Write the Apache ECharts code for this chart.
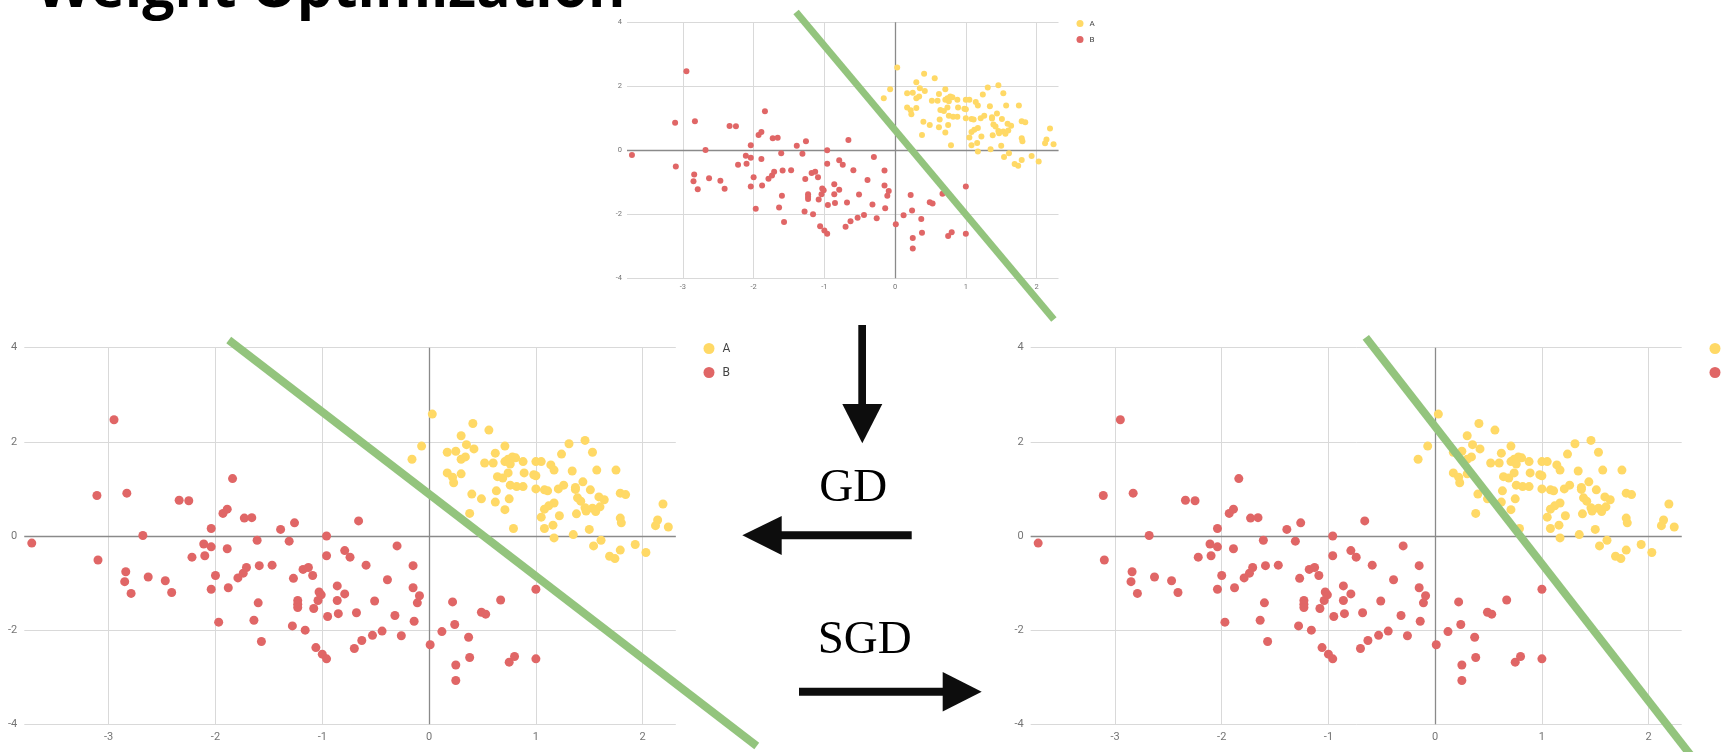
<!DOCTYPE html>
<html><head><meta charset="utf-8">
<script src="https://cdn.jsdelivr.net/npm/echarts@6/dist/echarts.min.js"></script>
<style>html,body{margin:0;padding:0;background:#fff}#c{width:1729px;height:752px}</style>
</head><body><div id="c"></div><script>
// ---- data ----
const seriesNames = ['A', 'B'];
const classA = [
 [-0.16,1.63],[-0.07,1.91],[0.03,2.59],[0.41,2.39],[0.56,2.25],[0.30,2.13],[0.35,1.94],[0.42,1.85],
 [0.17,1.78],[0.25,1.80],[0.71,1.91],[0.62,1.76],[0.30,1.63],[0.34,1.68],[0.52,1.55],[0.60,1.55],
 [0.71,1.58],[0.74,1.63],[0.78,1.68],[0.81,1.66],[0.76,1.53],[0.88,1.58],[0.17,1.34],[0.22,1.25],
 [0.23,1.13],[0.30,1.32],[0.64,1.26],[0.69,1.23],[0.74,1.34],[0.89,1.34],[0.98,1.30],[1.00,1.28],
 [1.00,1.58],[1.05,1.58],[1.14,1.51],[1.17,1.40],[1.24,1.74],[1.31,1.96],[1.46,2.03],[1.53,1.78],
 [1.34,1.38],[1.57,1.40],[1.75,1.40],[0.76,1.08],[0.82,1.05],[0.88,1.05],[0.63,0.96],[0.40,0.89],
 [0.49,0.79],[0.62,0.72],[0.75,0.79],[0.71,0.56],[0.38,0.48],[0.79,0.16],[1.00,1.00],[1.08,0.98],
 [1.11,0.96],[1.21,1.00],[1.26,1.08],[1.37,1.03],[1.37,0.99],[1.44,1.15],[1.51,0.98],[1.17,0.70],
 [1.12,0.64],[1.08,0.57],[1.05,0.40],[1.22,0.43],[1.08,0.16],[1.16,0.23],[1.17,-0.04],[1.35,0.03],
 [1.38,0.47],[1.39,0.81],[1.42,0.74],[1.46,0.60],[1.47,0.53],[1.53,0.59],[1.56,0.52],[1.60,0.62],
 [1.59,0.83],[1.64,0.77],[1.50,0.14],[1.79,0.91],[1.84,0.88],[1.79,0.38],[1.80,0.28],[1.61,-0.09],
 [1.54,-0.21],[1.69,-0.43],[1.74,-0.48],[1.79,-0.30],[1.93,-0.18],[2.03,-0.35],[2.19,0.68],[2.14,0.34],
 [2.12,0.22],[2.24,0.19]
];
const classB = [
 [-3.72,-0.15],[-2.95,2.47],[-3.11,0.86],[-2.83,0.91],[-3.10,-0.51],[-2.68,0.01],[-2.84,-0.76],[-2.85,-0.97],
 [-2.79,-1.22],[-2.63,-0.87],[-2.47,-0.95],[-2.41,-1.20],[-2.34,0.76],[-2.25,0.75],[-2.22,-0.45],[-2.11,-0.17],
 [-2.10,-0.42],[-2.04,0.16],[-2.04,-0.23],[-2.00,-0.84],[-2.04,-1.13],[-1.97,-1.83],[-1.93,0.48],[-1.89,0.57],
 [-1.89,-0.27],[-1.84,1.22],[-1.88,-1.10],[-1.79,-0.89],[-1.74,-0.79],[-1.71,-0.67],[-1.73,0.38],[-1.66,0.39],
 [-1.61,-0.09],[-1.59,-0.63],[-1.60,-1.42],[-1.64,-1.79],[-1.57,-2.24],[-1.47,-0.62],[-1.39,0.14],[-1.31,-0.11],
 [-1.26,0.28],[-1.27,-0.90],[-1.18,-0.71],[-1.13,-0.67],[-1.09,-0.84],[-1.23,-1.37],[-1.23,-1.45],[-1.23,-1.52],
 [-1.28,-1.91],[-1.16,-2.00],[-1.08,-1.54],[-1.04,-1.37],[-1.03,-1.19],[-1.01,-1.25],[-0.96,0.00],[-0.96,-0.42],
 [-0.95,-1.71],[-1.06,-2.37],[-1.00,-2.51],[-0.96,-2.61],[-0.86,-1.06],[-0.86,-1.37],[-0.85,-1.65],[-0.79,-0.31],
 [-0.74,-0.45],[-0.79,-1.23],[-0.66,0.32],[-0.68,-1.63],[-0.70,-2.39],[-0.63,-2.22],[-0.59,-0.62],[-0.51,-1.38],
 [-0.53,-2.11],[-0.44,-2.02],[-0.39,-0.93],[-0.30,-0.21],[-0.32,-1.69],[-0.26,-2.12],[-0.15,-0.63],[-0.15,-1.10],
 [-0.09,-1.27],[-0.11,-1.42],[-0.14,-1.81],[0.01,-2.31],[0.12,-2.03],[0.22,-1.40],[0.24,-1.88],[0.25,-2.74],
 [0.25,-3.07],[0.37,-2.15],[0.38,-2.58],[0.49,-1.62],[0.53,-1.66],[0.67,-1.36],[0.75,-2.68],[0.80,-2.56],
 [1.00,-1.13],[1.00,-2.61]
];
// decision boundaries: [x1, y1, x2, y2] in data units
const boundaryStart = [-1.40, 4.32, 2.245, -5.29];
const boundaryGD    = [-1.876, 4.164, 3.068, -4.46];
const boundarySGD   = [-0.65, 4.22, 2.43, -4.76];
// axes
const xTicks = [-3, -2, -1, 0, 1, 2];
const xRange = [-3.79, 2.31];
const yRange = [-4, 4];
const yStep = 2;
const titleText = 'Weight Optimization';
const gdText = 'GD';
const sgdText = 'SGD';

// ---- styling / layout ----
const COL_A = '#FFD966', COL_B = '#E06666', COL_LINE = '#93C47D';
const panels = [
  { grid: {left: 627, top: 22.3, width: 431.5, height: 256}, boundary: boundaryStart, dot: 6, lw: 7, fs: 7.5, margin: 5,
    legend: {left: 1076.5, top: 19.5, size: 7, gap: 8, fs: 8, pad: 1} },
  { grid: {left: 24.3, top: 347.7, width: 651.5, height: 376.6}, boundary: boundaryGD, dot: 9, lw: 8, fs: 11, margin: 7,
    legend: {left: 703.5, top: 342.5, size: 11, gap: 12, fs: 12, pad: 3} },
  { grid: {left: 1030.7, top: 347.7, width: 651, height: 376.6}, boundary: boundarySGD, dot: 9, lw: 8, fs: 11, margin: 7,
    legend: {left: 1709.5, top: 342.5, size: 11, gap: 12, fs: 12, pad: 4} }
];

const grid = [], xAxis = [], yAxis = [], series = [], legend = [];
panels.forEach((p, i) => {
  grid.push(Object.assign({outerBoundsMode: 'none', containLabel: false}, p.grid));
  xAxis.push({
    gridIndex: i, type: 'value', min: xRange[0], max: xRange[1],
    axisLine: {show: false}, axisTick: {show: false, customValues: xTicks},
    axisLabel: {customValues: xTicks, fontSize: p.fs, color: '#757575', margin: p.margin, fontFamily: 'Roboto'},
    splitLine: {show: true, lineStyle: {color: '#d9d9d9', width: 1}}
  });
  yAxis.push({
    gridIndex: i, type: 'value', min: yRange[0], max: yRange[1], interval: yStep,
    axisLine: {show: false}, axisTick: {show: false},
    axisLabel: {fontSize: p.fs, color: '#757575', margin: p.margin, fontFamily: 'Roboto'},
    splitLine: {show: true, lineStyle: {color: '#d9d9d9', width: 1}}
  });
  series.push({
    name: seriesNames[0], type: 'scatter', xAxisIndex: i, yAxisIndex: i, data: classA,
    symbolSize: p.dot, itemStyle: {color: COL_A, opacity: 1}, z: 2,
    markLine: {z: 1, silent: true, symbol: 'none', label: {show: false}, animation: false,
      lineStyle: {color: '#8a8a8a', width: 1.3, type: 'solid'},
      data: [{xAxis: 0}, {yAxis: 0}]}
  });
  series.push({
    name: seriesNames[1], type: 'scatter', xAxisIndex: i, yAxisIndex: i, data: classB,
    symbolSize: p.dot, itemStyle: {color: COL_B, opacity: 1}, z: 2
  });
  const lw = p.lw;
  series.push({
    name: 'boundary', type: 'custom', xAxisIndex: i, yAxisIndex: i, data: [p.boundary],
    encode: {x: [0, 2], y: [1, 3]}, clip: false, z: 3, silent: true,
    renderItem: function (params, api) {
      const a = api.coord([api.value(0), api.value(1)]);
      const b = api.coord([api.value(2), api.value(3)]);
      return {type: 'line', shape: {x1: a[0], y1: a[1], x2: b[0], y2: b[1]},
        style: {stroke: COL_LINE, lineWidth: lw, lineCap: 'butt', fill: null}};
    }
  });
  legend.push({
    data: seriesNames, orient: 'vertical', left: p.legend.left, top: p.legend.top, padding: 0,
    icon: 'circle', itemWidth: p.legend.size, itemHeight: p.legend.size, itemGap: p.legend.gap,
    textStyle: {fontSize: p.legend.fs, color: '#444', fontFamily: 'Roboto', padding: [0, 0, 0, p.legend.pad]},
    selectedMode: false
  });
});

const arrowFill = '#0d0d0d';
const graphic = [
  {type: 'text', x: 36, y: -9.5, style: {text: titleText, font: 'bold 57px "Open Sans"', fill: '#000',
    textAlign: 'left', textVerticalAlign: 'middle', align: 'left', verticalAlign: 'middle'}},
  // down arrow
  {type: 'rect', shape: {x: 858.3, y: 325, width: 7.7, height: 80}, style: {fill: arrowFill}},
  {type: 'polygon', shape: {points: [[842.3, 404], [882.3, 404], [862.3, 443.3]]}, style: {fill: arrowFill}},
  // left arrow (GD)
  {type: 'rect', shape: {x: 780, y: 531.3, width: 131.7, height: 8}, style: {fill: arrowFill}},
  {type: 'polygon', shape: {points: [[781.7, 516], [781.7, 555], [742.3, 535.3]]}, style: {fill: arrowFill}},
  // right arrow (SGD)
  {type: 'rect', shape: {x: 799, y: 687.7, width: 144, height: 8}, style: {fill: arrowFill}},
  {type: 'polygon', shape: {points: [[942.7, 672], [942.7, 711.4], [981.7, 691.7]]}, style: {fill: arrowFill}},
  {type: 'text', x: 853.3, y: 489, style: {text: gdText, font: '47px "Liberation Serif"', fill: '#000',
    textAlign: 'center', textVerticalAlign: 'middle', align: 'center', verticalAlign: 'middle'}},
  {type: 'text', x: 864.7, y: 641, style: {text: sgdText, font: '47px "Liberation Serif"', fill: '#000',
    textAlign: 'center', textVerticalAlign: 'middle', align: 'center', verticalAlign: 'middle'}}
];

const chart = echarts.init(document.getElementById('c'), null, {renderer: 'canvas'});
chart.setOption({
  animation: false, backgroundColor: '#fff',
  grid, xAxis, yAxis, series, legend, graphic
});
</script></body></html>
